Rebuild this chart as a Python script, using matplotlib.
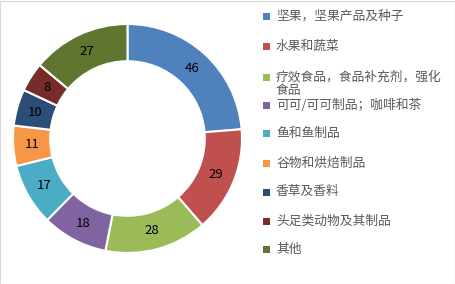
import numpy as np
import matplotlib
matplotlib.use('Agg')
import matplotlib.pyplot as plt
from matplotlib.patches import Rectangle

plt.rcParams['font.family'] = ['Noto Sans CJK SC', 'DejaVu Sans']

# data
categories = ['坚果，坚果产品及种子', '水果和蔬菜', '疗效食品，食品补充剂，强化\n食品',
              '可可/可可制品；咖啡和茶', '鱼和鱼制品', '谷物和烘焙制品',
              '香草及香料', '头足类动物及其制品', '其他']
values = [46, 29, 28, 18, 17, 11, 10, 8, 27]
colors = ['#4F81BD', '#C0504D', '#9BBB59', '#8064A2', '#4BACC6',
          '#F79646', '#2C4D75', '#772C2A', '#5F7530']

W, H = 456, 284
fig = plt.figure(figsize=(W / 100, H / 100), dpi=100)

# donut
ax = fig.add_axes([13 / W, 31 / H, 229 / W, 229 / H])
wedges, texts = ax.pie(values, colors=colors, startangle=90, counterclock=False,
                       radius=1.0, wedgeprops=dict(width=0.325, edgecolor='white', linewidth=1.5))
for w, v in zip(wedges, values):
    ang = np.deg2rad((w.theta1 + w.theta2) / 2)
    ax.text(0.835 * np.cos(ang), 0.835 * np.sin(ang), str(v),
            ha='center', va='center', fontsize=9.5, color='black')
ax.set_xlim(-1, 1)
ax.set_ylim(-1, 1)
ax.set_aspect('equal')
ax.axis('off')

# legend, drawn by hand to follow the wrapped entry
rows_y = [16, 46, 77, 105, 133, 163, 192, 221, 249]
for lab, c, y in zip(categories, colors, rows_y):
    fig.patches.append(Rectangle((263 / W, (H - y - 3.5) / H), 7 / W, 7 / H,
                                 transform=fig.transFigure, facecolor=c, edgecolor='none'))
    if '\n' in lab:
        fig.text(276 / W, (H - y + 6.5) / H, lab, ha='left', va='top', fontsize=9.2,
                 color='#595959', linespacing=1.05)
    else:
        fig.text(276 / W, (H - y) / H, lab, ha='left', va='center', fontsize=9.2, color='#595959')

# outer frame
fig.patches.append(Rectangle((0.5 / W, 0.5 / H), (W - 1.5) / W, (H - 1.5) / H,
                             transform=fig.transFigure, facecolor='none',
                             edgecolor='#D9D9D9', linewidth=0.8))

fig.savefig('out.png', dpi=100)
